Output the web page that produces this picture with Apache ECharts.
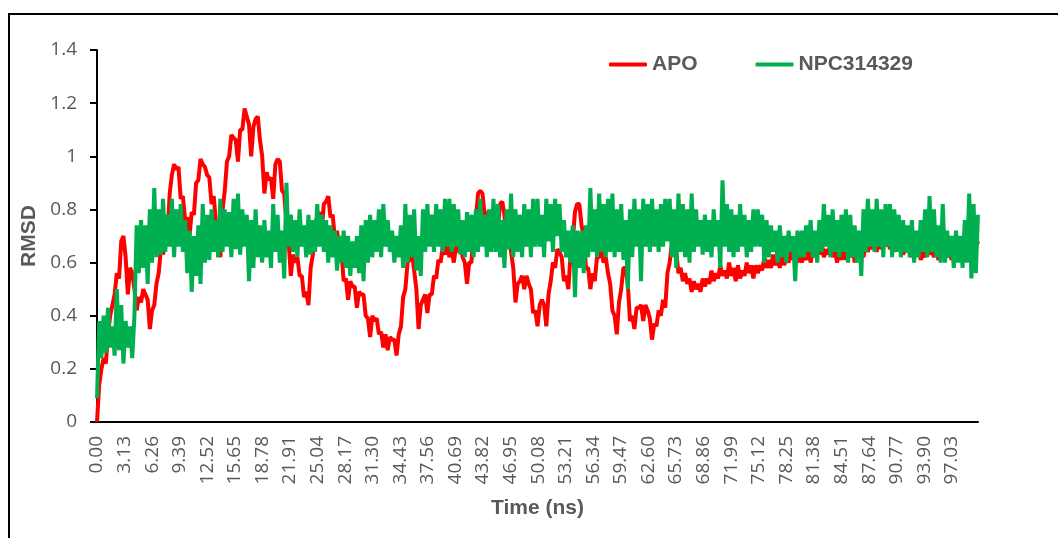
<!DOCTYPE html>
<html>
<head>
<meta charset="utf-8">
<title>RMSD</title>
<script src="https://cdn.jsdelivr.net/npm/echarts@6/dist/echarts.min.js"></script>
<style>
  html, body { margin: 0; padding: 0; background: #ffffff; }
  #chart { width: 1058px; height: 538px; }
</style>
</head>
<body>
<div id="chart"></div>
<script>
// Sampling interval of the trajectory values below (ns)
const timeStepNs = 0.25;

// Tick labels along the time axis
const timeTicks = ['0.00','3.13','6.26','9.39','12.52','15.65','18.78','21.91','25.04','28.17',
  '31.30','34.43','37.56','40.69','43.82','46.95','50.08','53.21','56.34','59.47','62.60',
  '65.73','68.86','71.99','75.12','78.25','81.38','84.51','87.64','90.77','93.90','97.03'];

const seriesNames = ['APO', 'NPC314329'];

// RMSD of the apo protein, one value per 0.25 ns (one row = 5 ns)
const apoRmsd = [
  0.00,0.14,0.20,0.24,0.22,0.33,0.40,0.44,0.48,0.56,0.54,0.68,0.70,0.62,0.48,0.58,0.56,0.50,0.42,0.47,
  0.45,0.50,0.48,0.46,0.35,0.42,0.44,0.52,0.56,0.65,0.63,0.72,0.70,0.86,0.93,0.97,0.95,0.96,0.84,0.85,
  0.76,0.77,0.70,0.79,0.78,0.90,0.91,0.99,0.97,0.96,0.93,0.92,0.82,0.85,0.75,0.73,0.62,0.80,0.87,0.98,
  1.00,1.08,1.07,1.06,0.98,1.10,1.10,1.18,1.15,1.12,1.00,1.11,1.14,1.15,1.06,1.00,0.86,0.94,0.91,0.92,
  0.84,0.97,0.99,0.98,0.87,0.86,0.75,0.68,0.55,0.63,0.60,0.62,0.55,0.55,0.47,0.49,0.44,0.58,0.63,0.75,
  0.77,0.79,0.72,0.82,0.83,0.85,0.77,0.78,0.69,0.72,0.65,0.64,0.53,0.54,0.46,0.53,0.51,0.51,0.43,0.49,
  0.48,0.48,0.40,0.39,0.32,0.40,0.38,0.39,0.33,0.34,0.28,0.33,0.27,0.32,0.31,0.31,0.25,0.33,0.36,0.47,
  0.50,0.60,0.61,0.64,0.57,0.50,0.35,0.44,0.46,0.48,0.41,0.48,0.48,0.55,0.54,0.61,0.60,0.66,0.63,0.67,
  0.62,0.65,0.60,0.66,0.64,0.67,0.62,0.60,0.52,0.60,0.60,0.72,0.76,0.86,0.87,0.86,0.78,0.79,0.72,0.74,
  0.68,0.74,0.73,0.82,0.83,0.78,0.66,0.69,0.64,0.58,0.45,0.52,0.53,0.55,0.50,0.55,0.52,0.50,0.41,0.42,
  0.36,0.44,0.46,0.44,0.36,0.48,0.53,0.60,0.58,0.65,0.64,0.62,0.53,0.55,0.50,0.63,0.68,0.79,0.82,0.82,
  0.74,0.70,0.58,0.58,0.50,0.56,0.53,0.62,0.62,0.65,0.60,0.62,0.56,0.52,0.42,0.40,0.33,0.45,0.50,0.58,
  0.58,0.52,0.38,0.40,0.35,0.43,0.43,0.44,0.38,0.44,0.42,0.39,0.31,0.37,0.36,0.42,0.40,0.46,0.43,0.56,
  0.60,0.67,0.65,0.64,0.56,0.58,0.53,0.56,0.52,0.54,0.49,0.53,0.50,0.52,0.49,0.54,0.51,0.54,0.52,0.57,
  0.53,0.56,0.54,0.59,0.55,0.57,0.54,0.60,0.55,0.58,0.53,0.59,0.54,0.57,0.55,0.60,0.56,0.59,0.54,0.59,
  0.56,0.59,0.57,0.62,0.58,0.61,0.58,0.63,0.59,0.62,0.58,0.64,0.59,0.62,0.60,0.65,0.61,0.64,0.60,0.65,
  0.60,0.63,0.61,0.66,0.60,0.65,0.62,0.67,0.63,0.68,0.62,0.65,0.63,0.68,0.62,0.65,0.60,0.65,0.61,0.66,
  0.61,0.64,0.62,0.67,0.60,0.63,0.61,0.66,0.62,0.67,0.64,0.69,0.65,0.68,0.64,0.70,0.65,0.68,0.66,0.71,
  0.65,0.68,0.64,0.70,0.65,0.68,0.63,0.66,0.64,0.69,0.62,0.65,0.63,0.68,0.61,0.64,0.62,0.67,0.63,0.66,
  0.62,0.67,0.61,0.64,0.63,0.68,0.62,0.65,0.61,0.66,0.63,0.68,0.62,0.65,0.64,0.69,0.63,0.66,0.64,0.70,
  0.67
];

// RMSD of the NPC314329-bound complex, one value per 0.25 ns (one row = 5 ns)
const npcRmsd = [
  0.09,0.38,0.24,0.40,0.26,0.43,0.28,0.36,0.25,0.50,0.27,0.44,0.22,0.38,0.28,0.36,0.24,0.40,0.74,0.56,
  0.76,0.58,0.74,0.52,0.80,0.60,0.88,0.62,0.80,0.63,0.84,0.64,0.78,0.66,0.84,0.62,0.80,0.66,0.82,0.64,
  0.76,0.56,0.72,0.49,0.70,0.55,0.74,0.52,0.82,0.60,0.78,0.61,0.80,0.64,0.76,0.62,0.84,0.64,0.80,0.66,
  0.79,0.62,0.84,0.65,0.86,0.63,0.80,0.66,0.78,0.53,0.76,0.58,0.80,0.62,0.74,0.60,0.76,0.62,0.72,0.58,
  0.82,0.64,0.78,0.60,0.72,0.54,0.90,0.66,0.78,0.64,0.76,0.62,0.80,0.66,0.74,0.62,0.78,0.63,0.76,0.64,
  0.82,0.66,0.78,0.64,0.76,0.60,0.74,0.62,0.72,0.57,0.70,0.60,0.72,0.58,0.70,0.55,0.68,0.58,0.70,0.56,
  0.74,0.53,0.76,0.60,0.78,0.62,0.76,0.64,0.80,0.62,0.82,0.66,0.76,0.64,0.72,0.60,0.70,0.62,0.74,0.58,
  0.82,0.60,0.78,0.62,0.80,0.57,0.70,0.55,0.80,0.64,0.82,0.66,0.78,0.64,0.82,0.66,0.80,0.64,0.84,0.66,
  0.84,0.64,0.82,0.66,0.80,0.63,0.76,0.62,0.79,0.64,0.78,0.62,0.80,0.64,0.84,0.66,0.78,0.62,0.80,0.64,
  0.84,0.64,0.82,0.62,0.76,0.58,0.80,0.65,0.86,0.62,0.80,0.64,0.78,0.62,0.82,0.66,0.80,0.62,0.84,0.66,
  0.84,0.66,0.78,0.62,0.84,0.68,0.82,0.64,0.84,0.70,0.82,0.64,0.76,0.62,0.72,0.60,0.74,0.47,0.72,0.58,
  0.72,0.56,0.74,0.62,0.88,0.64,0.80,0.62,0.86,0.64,0.82,0.62,0.84,0.64,0.86,0.62,0.80,0.64,0.82,0.61,
  0.76,0.50,0.80,0.62,0.84,0.66,0.80,0.53,0.84,0.66,0.82,0.64,0.84,0.66,0.80,0.64,0.82,0.66,0.84,0.68,
  0.84,0.62,0.80,0.58,0.86,0.64,0.82,0.62,0.80,0.60,0.86,0.64,0.80,0.66,0.76,0.63,0.78,0.64,0.76,0.62,
  0.80,0.66,0.76,0.58,0.91,0.66,0.82,0.64,0.80,0.62,0.78,0.64,0.82,0.66,0.78,0.62,0.76,0.64,0.80,0.66,
  0.80,0.66,0.78,0.60,0.76,0.62,0.74,0.64,0.72,0.60,0.74,0.62,0.70,0.60,0.72,0.64,0.70,0.53,0.72,0.62,
  0.72,0.62,0.74,0.64,0.76,0.62,0.72,0.60,0.76,0.64,0.82,0.66,0.78,0.62,0.80,0.64,0.76,0.62,0.78,0.64,
  0.80,0.60,0.78,0.62,0.74,0.60,0.72,0.55,0.80,0.64,0.84,0.66,0.80,0.64,0.84,0.66,0.80,0.62,0.82,0.66,
  0.82,0.62,0.80,0.64,0.78,0.62,0.76,0.64,0.74,0.62,0.76,0.60,0.72,0.62,0.76,0.64,0.80,0.62,0.85,0.64,
  0.80,0.62,0.74,0.60,0.82,0.60,0.72,0.62,0.70,0.58,0.72,0.60,0.70,0.58,0.76,0.60,0.86,0.54,0.82,0.56,
  0.78
];

const tickStep = Number(timeTicks[1]) - Number(timeTicks[0]);
const toPairs = vals => vals.map((v, i) => [i * timeStepNs, v]);

const chart = echarts.init(document.getElementById('chart'), null, { renderer: 'canvas' });

const labelColor = '#595959';
const tickFont = '"Open Sans", "Noto Sans", sans-serif';
const titleFont = '"Liberation Sans", Arial, sans-serif';

chart.setOption({
  animation: false,
  backgroundColor: '#ffffff',
  graphic: [{
    type: 'polyline',
    shape: { points: [[9, 540], [9, 14], [1060, 14]] },
    style: { stroke: '#000000', lineWidth: 2, fill: null },
    silent: true
  }],
  grid: { left: 97, right: 80, top: 50, bottom: 116, containLabel: false },
  legend: {
    data: seriesNames,
    left: 604,
    top: 49,
    icon: 'roundRect',
    itemWidth: 38,
    itemHeight: 4,
    itemGap: 58,
    textStyle: { color: labelColor, fontFamily: titleFont, fontWeight: 'bold', fontSize: 21 }
  },
  xAxis: {
    type: 'value',
    min: 0,
    max: 100,
    interval: tickStep,
    name: 'Time (ns)',
    nameLocation: 'middle',
    nameGap: 76,
    nameTextStyle: { color: labelColor, fontFamily: titleFont, fontWeight: 'bold', fontSize: 21 },
    splitLine: { show: false },
    axisTick: { show: false },
    axisLine: { show: true, onZero: false, lineStyle: { color: '#000000', width: 2 } },
    axisLabel: {
      rotate: 90,
      margin: 14,
      showMaxLabel: false,
      color: labelColor,
      fontFamily: tickFont,
      fontSize: 19,
      formatter: v => {
        const k = Math.round(v / tickStep);
        return timeTicks[k] !== undefined ? timeTicks[k] : '';
      }
    }
  },
  yAxis: {
    type: 'value',
    min: 0,
    max: 1.4,
    interval: 0.2,
    name: 'RMSD',
    nameLocation: 'middle',
    nameGap: 57,
    nameTextStyle: { color: labelColor, fontFamily: titleFont, fontWeight: 'bold', fontSize: 21 },
    splitLine: { show: false },
    axisLine: { show: true, lineStyle: { color: '#000000', width: 2 } },
    axisTick: { show: true, length: 7, lineStyle: { color: '#000000', width: 2 } },
    axisLabel: {
      margin: 20,
      color: labelColor,
      fontFamily: tickFont,
      fontSize: 19,
      formatter: v => String(Math.round(v * 10) / 10)
    }
  },
  series: [
    {
      name: seriesNames[0],
      type: 'line',
      data: toPairs(apoRmsd),
      showSymbol: false,
      symbol: 'none',
      color: '#ff0000',
      lineStyle: { color: '#ff0000', width: 4 },
      z: 2
    },
    {
      name: seriesNames[1],
      type: 'line',
      data: toPairs(npcRmsd),
      showSymbol: false,
      symbol: 'none',
      color: '#00b050',
      lineStyle: { color: '#00b050', width: 4 },
      z: 3
    }
  ]
});
</script>
</body>
</html>
